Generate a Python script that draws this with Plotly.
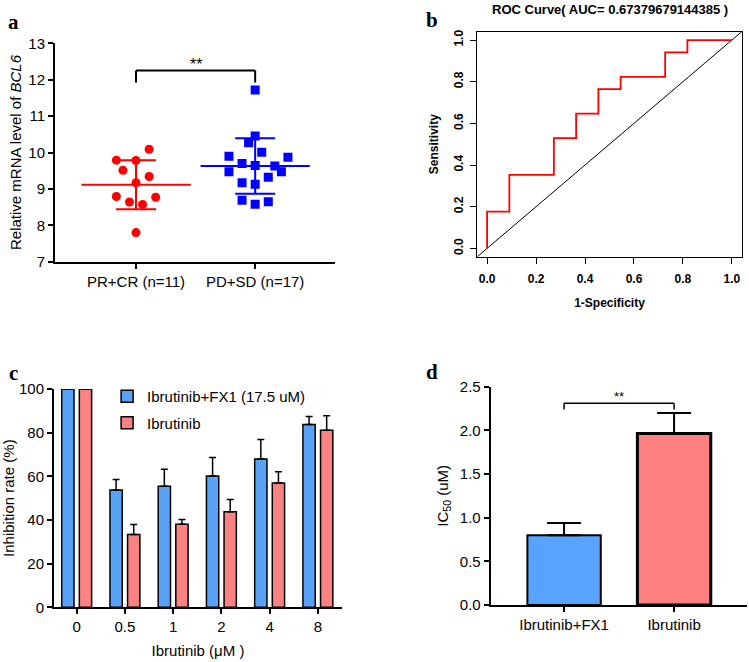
import numpy as np
import plotly.graph_objects as go

# ---------------- data ----------------
# Panel a
group_labels_a = ["PR+CR (n=11)", "PD+SD (n=17)"]
pr_cr_values = [9.79, 9.78, 10.09, 9.51, 9.34, 9.17, 8.79, 8.77, 8.64, 8.57, 7.80]
pr_cr_jitter = [-3, 0, 2, -2, 2, 0, -3, 3, -1, 1, 0]
pd_sd_values = [11.72, 10.45, 10.27, 10.01, 9.90, 9.87, 9.70, 9.64, 9.63, 9.47, 9.47,
                9.32, 9.17, 9.13, 8.69, 8.65, 8.58]
pd_sd_jitter = [0, 0, -1, 1, -4, 5, -2, 0, 3, -4, 4, 2, -2, 0, -2, 2, 0]
sig_a_y = 12.25
sig_a_drop = 11.92

# Panel b (ROC)
roc_fpr = [0, 0, 1/11, 1/11, 3/11, 3/11, 4/11, 4/11, 5/11, 5/11, 6/11, 6/11,
           8/11, 8/11, 9/11, 9/11, 1.0]
roc_tpr = [0, 3/17, 3/17, 6/17, 6/17, 9/17, 9/17, 11/17, 11/17, 13/17, 13/17,
           14/17, 14/17, 16/17, 16/17, 1.0, 1.0]
roc_title = "ROC Curve( AUC= 0.67379679144385 )"

# Panel c
conc_labels = ["0", "0.5", "1", "2", "4", "8"]
combo_name = "Ibrutinib+FX1 (17.5 uM)"
ibru_name = "Ibrutinib"
combo_rate = [100, 53.7, 55.4, 60.2, 67.9, 83.7]
combo_err = [0, 4.9, 7.8, 8.4, 9.0, 3.7]
ibru_rate = [100, 33.3, 38.0, 43.8, 56.9, 81.1]
ibru_err = [0, 4.6, 2.2, 5.6, 5.2, 6.7]

# Panel d
ic50_labels = ["Ibrutinib+FX1", "Ibrutinib"]
ic50_values = [0.80, 1.965]
ic50_err = [0.14, 0.235]
sig_d_y = 2.31
sig_d_drop = 2.24

BLUE_C = "#58A3F7"
RED_C = "#FA8282"
FONT = "Liberation Sans, Arial, sans-serif"

fig = go.Figure()

# ---------------- panel a ----------------
step = 0.055
for gi, (vals, jit, col, sym) in enumerate([
        (pr_cr_values, pr_cr_jitter, "#FF0000", "circle"),
        (pd_sd_values, pd_sd_jitter, "#0000FF", "square")]):
    xs = [gi + j * step for j in jit]
    fig.add_trace(go.Scatter(x=xs, y=vals, mode="markers", xaxis="x", yaxis="y",
                             marker=dict(color=col, size=9, symbol=sym, line=dict(width=0)),
                             showlegend=False, hoverinfo="y"))
    m = float(np.mean(vals))
    sd = float(np.std(vals, ddof=1))
    fig.add_trace(go.Scatter(x=[gi], y=[m], mode="markers", xaxis="x", yaxis="y",
                             marker=dict(symbol="line-ew", size=78, color=col,
                                         line=dict(color=col, width=2)),
                             error_y=dict(type="data", array=[sd], color=col,
                                          thickness=2, width=20),
                             showlegend=False, hoverinfo="y"))

# ---------------- panel b ----------------
b_range = [-0.04, 1.04]
fig.add_trace(go.Scatter(x=b_range, y=b_range, mode="lines", xaxis="x2", yaxis="y2",
                         line=dict(color="black", width=1), showlegend=False, hoverinfo="skip"))
fig.add_trace(go.Scatter(x=roc_fpr, y=roc_tpr, mode="lines", xaxis="x2", yaxis="y2",
                         line=dict(color="#FF0000", width=1.8), showlegend=False))

# ---------------- panel c ----------------
fig.add_trace(go.Bar(x=conc_labels, y=combo_rate, name=combo_name, xaxis="x3", yaxis="y3",
                     width=0.255, offset=-0.31,
                     marker=dict(color=BLUE_C, line=dict(color="black", width=1.5)),
                     error_y=dict(type="data", array=combo_err, arrayminus=[0]*6,
                                  symmetric=False, color="black", thickness=1.5, width=3.5),
                     legendgroup="g1"))
fig.add_trace(go.Bar(x=conc_labels, y=ibru_rate, name=ibru_name, xaxis="x3", yaxis="y3",
                     width=0.255, offset=0.055,
                     marker=dict(color=RED_C, line=dict(color="black", width=1.5)),
                     error_y=dict(type="data", array=ibru_err, arrayminus=[0]*6,
                                  symmetric=False, color="black", thickness=1.5, width=3.5),
                     legendgroup="g2"))

# ---------------- panel d ----------------
fig.add_trace(go.Bar(x=ic50_labels, y=ic50_values, xaxis="x4", yaxis="y4", width=0.667,
                     marker=dict(color=["#58A3FF", "#FF8080"],
                                 line=dict(color="black", width=[2, 3])),
                     error_y=dict(type="data", array=ic50_err, arrayminus=[0, 0],
                                  symmetric=False, color="black", thickness=2, width=17),
                     showlegend=False))

axis_common = dict(showline=True, linecolor="black", ticks="outside", tickcolor="black",
                   showgrid=False, zeroline=False, automargin=False)

shapes = []
for (x0, y0, x1, y1) in [(0, sig_a_y, 1, sig_a_y), (0, sig_a_y, 0, sig_a_drop),
                         (1, sig_a_y, 1, sig_a_drop)]:
    shapes.append(dict(type="line", xref="x", yref="y", x0=x0, y0=y0, x1=x1, y1=y1,
                       line=dict(color="black", width=2)))
for (x0, y0, x1, y1) in [(0, sig_d_y, 1, sig_d_y), (0, sig_d_y, 0, sig_d_drop),
                         (1, sig_d_y, 1, sig_d_drop)]:
    shapes.append(dict(type="line", xref="x4", yref="y4", x0=x0, y0=y0, x1=x1, y1=y1,
                       line=dict(color="black", width=1.5)))

SERIF = "Liberation Serif, Times New Roman, serif"


def letter(t, px, py):
    return dict(text="<b>%s</b>" % t, x=px/749, y=1-py/662, xref="paper", yref="paper",
                xanchor="center", yanchor="middle", showarrow=False,
                font=dict(family=SERIF, size=21, color="black"))


annotations = [
    letter("a", 13, 22), letter("b", 432, 20), letter("c", 13, 373), letter("d", 432, 372),
    dict(text="**", x=0.5, y=sig_a_y, xref="x", yref="y", xanchor="center", yanchor="bottom",
         yshift=-4, showarrow=False, font=dict(family=FONT, size=16, color="black")),
    dict(text="**", x=0.5, y=sig_d_y, xref="x4", yref="y4", xanchor="center", yanchor="bottom",
         yshift=-3, showarrow=False, font=dict(family=FONT, size=13, color="black")),
    dict(text="<b>" + roc_title + "</b>", x=610/749, y=1-9/662, xref="paper", yref="paper",
         xanchor="center", yanchor="middle",
         showarrow=False, font=dict(family=FONT, size=13, color="black")),
]

fig.update_layout(
    width=749, height=662, margin=dict(l=0, r=0, t=0, b=0, autoexpand=False),
    plot_bgcolor="white", paper_bgcolor="white",
    font=dict(family=FONT, color="black", size=15),
    barmode="overlay",
    xaxis=dict(domain=[55/749, 335/749], range=[-0.68, 1.67], tickvals=[0, 1],
               ticktext=group_labels_a, linewidth=2, ticklen=5, tickwidth=2,
               tickfont=dict(size=15), anchor="y", **axis_common),
    yaxis=dict(domain=[1-261.7/662, 1-43.3/662], range=[7, 13], dtick=1, linewidth=2,
               ticklen=5, tickwidth=2, tickfont=dict(size=15), anchor="x",
               title=dict(text="Relative mRNA level of <i>BCL6</i>", font=dict(size=15), standoff=3),
               **axis_common),
    xaxis2=dict(domain=[477.3/749, 741.7/749], range=b_range, tickvals=[0, 0.2, 0.4, 0.6, 0.8, 1.0],
                tickformat=".1f", mirror=True, linewidth=1, ticklen=6, tickwidth=1,
                ticklabelstandoff=5,
                tickfont=dict(size=12, weight="bold"), anchor="y2",
                title=dict(text="<b>1-Specificity</b>", font=dict(size=12), standoff=13),
                **axis_common),
    yaxis2=dict(domain=[1-256.7/662, 1-31.7/662], range=b_range, tickvals=[0, 0.2, 0.4, 0.6, 0.8, 1.0],
                tickformat=".1f", tickangle=-90, mirror=True, linewidth=1, ticklen=6, tickwidth=1,
                ticklabelstandoff=3,
                tickfont=dict(size=12, weight="bold"), anchor="x2",
                title=dict(text="<b>Sensitivity</b>", font=dict(size=12), standoff=10),
                **axis_common),
    xaxis3=dict(domain=[54/749, 342/749], range=[-0.47, 5.5], type="category",
                linewidth=2, ticklen=5, tickwidth=2, tickfont=dict(size=15), anchor="y3",
                title=dict(text="Ibrutinib (μM )", font=dict(size=15), standoff=11),
                **axis_common),
    yaxis3=dict(domain=[1-607.3/662, 1-389/662], range=[0, 100], dtick=20, linewidth=2,
                ticklen=5, tickwidth=2, tickfont=dict(size=15), anchor="x3",
                title=dict(text="Inhibition rate (%)", font=dict(size=15), standoff=3),
                **axis_common),
    xaxis4=dict(domain=[490.7/749, 746.7/749], range=[-0.667, 1.66], type="category",
                linewidth=2, ticklen=5, tickwidth=2, tickfont=dict(size=15), anchor="y4",
                **axis_common),
    yaxis4=dict(domain=[1-605/662, 1-386.7/662], range=[0, 2.5], dtick=0.5, tickformat=".1f",
                linewidth=2, ticklen=5, tickwidth=2, tickfont=dict(size=15), anchor="x4",
                title=dict(text="IC<sub>50</sub> (uM)", font=dict(size=15), standoff=8),
                **axis_common),
    legend=dict(x=0.143, y=1-380/662, xanchor="left", yanchor="top", bgcolor="rgba(0,0,0,0)",
                font=dict(size=15), tracegroupgap=4),
    shapes=shapes, annotations=annotations,
)

fig.write_html("out.html", config={"displayModeBar": False},
               post_script="document.body.style.margin='0';document.body.style.padding='0';")
